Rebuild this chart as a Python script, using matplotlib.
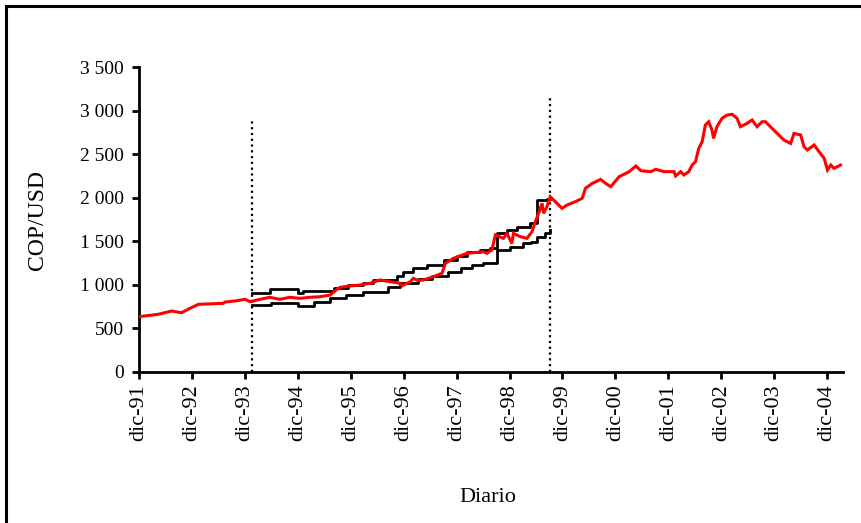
import matplotlib
matplotlib.use("Agg")
import matplotlib.pyplot as plt
from matplotlib.lines import Line2D
import pandas as pd

# Tasa de cambio diaria COP/USD (observaciones leidas por fecha)
fechas_trm = [
    "1991-12-02", "1992-04-12", "1992-07-14", "1992-09-20", "1992-11-17",
    "1993-01-15", "1993-07-05", "1993-07-17", "1993-09-24", "1993-12-02",
    "1994-01-06", "1994-03-15", "1994-05-22", "1994-07-30", "1994-10-06",
    "1994-12-15", "1995-02-23", "1995-05-03", "1995-07-12", "1995-08-15",
    "1995-09-20", "1995-11-27", "1996-02-02", "1996-04-12", "1996-06-20",
    "1996-08-28", "1996-11-05", "1996-11-20", "1997-01-14", "1997-02-05",
    "1997-03-10", "1997-04-15", "1997-06-24", "1997-08-22", "1997-09-14",
    "1997-11-09", "1998-02-11", "1998-06-04", "1998-06-28", "1998-08-01",
    "1998-08-25", "1998-10-20", "1998-11-13", "1998-12-17", "1998-12-28",
    "1999-02-13", "1999-03-31", "1999-05-05", "1999-05-28", "1999-06-20",
    "1999-07-13", "1999-07-24", "1999-08-16", "1999-09-08", "1999-10-13",
    "1999-11-28", "2000-01-02", "2000-02-28", "2000-04-15", "2000-05-08",
    "2000-06-24", "2000-08-20", "2000-09-24", "2000-10-29", "2000-12-26",
    "2001-02-10", "2001-03-05", "2001-04-21", "2001-05-25", "2001-08-02",
    "2001-09-05", "2001-11-01", "2002-01-09", "2002-01-20", "2002-02-24",
    "2002-03-18", "2002-04-21", "2002-05-14", "2002-06-06", "2002-06-29",
    "2002-07-22", "2002-08-13", "2002-09-05", "2002-09-28", "2002-10-09",
    "2002-11-01", "2002-12-06", "2003-01-10", "2003-02-14", "2003-03-20",
    "2003-04-12", "2003-05-28", "2003-07-02", "2003-08-05", "2003-09-09",
    "2003-10-02", "2003-11-05", "2003-12-22", "2004-02-06", "2004-03-24",
    "2004-04-16", "2004-06-01", "2004-06-24", "2004-07-17", "2004-09-02",
    "2004-10-06", "2004-11-10", "2004-12-03", "2004-12-26", "2005-01-17",
    "2005-03-03",
]
trm = [
    635, 662, 700, 680, 731,
    777, 788, 803, 815, 834,
    807, 834, 857, 834, 857,
    845, 857, 864, 883, 933,
    972, 987, 998, 1018, 1056,
    1036, 1018, 990, 1036, 1075,
    1048, 1056, 1094, 1133, 1247,
    1305, 1362, 1380, 1362, 1400,
    1572, 1534, 1591, 1476, 1591,
    1553, 1534, 1610, 1725, 1821,
    1936, 1821, 1897, 2012, 1954,
    1878, 1916, 1954, 1993, 2108,
    2165, 2210, 2165, 2126, 2241,
    2279, 2299, 2364, 2310, 2299,
    2326, 2299, 2299, 2249, 2299,
    2261, 2299, 2375, 2413, 2567,
    2643, 2834, 2872, 2777, 2681,
    2815, 2911, 2949, 2957, 2911,
    2815, 2853, 2892, 2815, 2872,
    2872, 2815, 2738, 2662, 2623,
    2738, 2720, 2585, 2548, 2605,
    2528, 2452, 2318, 2375, 2337,
    2375,
]

# Banda cambiaria: techo y piso (cambios escalonados)
fechas_techo = [
    "1994-01-18", "1994-05-22", "1994-12-05", "1995-01-09", "1995-08-05",
    "1995-11-15", "1996-02-25", "1996-05-04", "1996-10-14", "1996-11-27",
    "1997-02-06", "1997-05-10", "1997-09-03", "1997-12-01", "1998-02-11",
    "1998-05-12", "1998-07-19", "1998-09-02", "1998-11-13", "1999-01-21",
    "1999-04-23", "1999-06-10", "1999-08-16", "1999-09-09",
]
techo = [
    903, 949, 903, 926, 967,
    995, 1018, 1056, 1102, 1151,
    1190, 1228, 1285, 1330, 1380,
    1400, 1419, 1590, 1629, 1660,
    1706, 1974, 1990, 1990,
]
fechas_piso = [
    "1994-01-18", "1994-06-01", "1994-12-05", "1995-03-20", "1995-07-12",
    "1995-11-01", "1996-02-25", "1996-08-15", "1996-11-05", "1997-03-11",
    "1997-06-15", "1997-10-01", "1998-01-01", "1998-03-15", "1998-06-01",
    "1998-09-02", "1998-12-01", "1999-03-01", "1999-05-01", "1999-06-10",
    "1999-08-01", "1999-09-09",
]
piso = [
    769, 788, 757, 807, 846,
    880, 921, 979, 1018, 1064,
    1102, 1150, 1190, 1228, 1250,
    1400, 1438, 1476, 1495, 1553,
    1600, 1629,
]

# Inicio y fin del regimen de banda
fechas_regimen = ["1994-01-18", "1999-09-09"]
alto_lineas = [2915, 3180]

etiquetas_anio = [f"dic-{a % 100:02d}" for a in range(1991, 2005)]
ticks_y = [0, 500, 1000, 1500, 2000, 2500, 3000, 3500]

plt.rcParams["font.family"] = ["Liberation Serif", "DejaVu Serif"]

W, H = 861, 523
fig = plt.figure(figsize=(W / 100, H / 100), dpi=100)
ax_l, ax_r, ax_b, ax_t = 139, 843, 372, 67
ax = fig.add_axes([ax_l / W, 1 - ax_b / H, (ax_r - ax_l) / W, (ax_b - ax_t) / H])

ax.plot(pd.to_datetime(fechas_trm), trm, color="#ff0000", lw=2.2,
        solid_joinstyle="miter", zorder=3)
ax.plot(pd.to_datetime(fechas_techo), techo, color="black", lw=2.0,
        drawstyle="steps-post", zorder=2)
ax.plot(pd.to_datetime(fechas_piso), piso, color="black", lw=2.0,
        drawstyle="steps-post", zorder=2)
for f, h in zip(pd.to_datetime(fechas_regimen), alto_lineas):
    ax.plot([f, f], [0, h], color="black", lw=1.6, linestyle=(0, (1, 1.6)),
            zorder=1)

ax.set_ylim(0, 3500)
ax.set_xlim(pd.Timestamp("1991-12-01"), pd.Timestamp("2005-03-20"))
ax.set_yticks(ticks_y)
ax.set_yticklabels([f"{v:,}".replace(",", " ") for v in ticks_y])
ticks_x = pd.to_datetime([f"{a}-12-01" for a in range(1991, 2005)])
ax.set_xticks(ticks_x)
ax.set_xticklabels(etiquetas_anio, rotation=90)

for s in ["top", "right"]:
    ax.spines[s].set_visible(False)
for s in ["left", "bottom"]:
    ax.spines[s].set_linewidth(2.0)
ax.tick_params(axis="both", direction="out", length=5, width=2.0)
ax.tick_params(axis="y", labelsize=14, pad=6)
ax.tick_params(axis="x", labelsize=16, pad=4)

ax.set_ylabel("COP/USD", fontsize=17, va="center")
ax.yaxis.set_label_coords((38 - ax_l) / (ax_r - ax_l), 0.5)
ax.set_xlabel("Diario", fontsize=16, va="center")
ax.xaxis.set_label_coords((488 - ax_l) / (ax_r - ax_l), (ax_b - 497) / (ax_b - ax_t))

# Marco del grafico
fig.add_artist(Line2D([6 / W, 6 / W], [0, 1 - 6 / H], color="black", lw=2.2))
fig.add_artist(Line2D([6 / W, 1], [1 - 6 / H, 1 - 6 / H], color="black", lw=2.2))

fig.savefig("out.png", dpi=100)
